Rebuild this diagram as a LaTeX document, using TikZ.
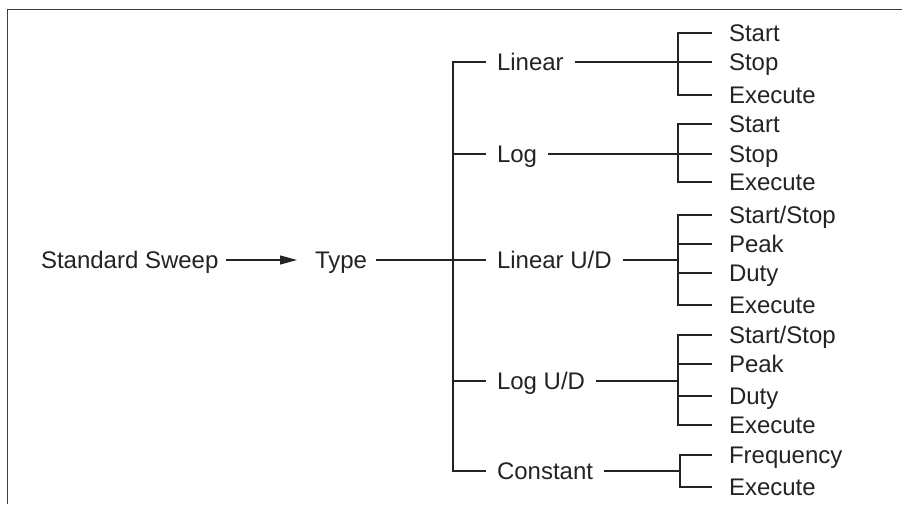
\documentclass[tikz,border=0pt]{standalone}
\usepackage{fontspec}
\setmainfont{Liberation Sans}
\usetikzlibrary{arrows.meta, positioning}
\definecolor{inkgray}{RGB}{35,35,35}
\definecolor{framegray}{RGB}{60,60,60}

\begin{document}
\begin{tikzpicture}[x=1pt, y=-1pt,
  lbl/.style={anchor=west, inner xsep=0pt, inner ysep=0pt, text height=17pt, text depth=0pt,
              font=\fontsize{24}{28}\selectfont, text=inkgray},
  mid/.style={lbl, outer xsep=11pt},
  leaf/.style={lbl, outer xsep=17pt},
  wire/.style={draw=inkgray, line width=1.1pt},
  arr/.style={wire, -{Triangle[length=17pt, width=9pt]}}]
\useasboundingbox (0,0) rectangle (902,504);
\draw[framegray, line width=1.9pt] (7.5,504) -- (7.5,9.5) -- (902,9.5);

\node[lbl, outer xsep=8pt] (ss) at (33,260) {Standard Sweep};
\node[lbl, outer xsep=9pt] (ty) at (306,260) {Type};
\draw[arr, shorten >=9pt] (ss.east) -- (ty.west);
\coordinate (bus) at (453,260);
\draw[wire] (ty.east) -- (bus);

\node[mid] (lin) at (486,62) {Linear};
\node[mid] (log) at (486,154) {Log};
\node[mid] (linud) at (486,260) {Linear U/D};
\node[mid] (logud) at (486,381) {Log U/D};
\node[mid] (const) at (486,471) {Constant};
\draw[wire] (lin.west) -| (bus) |- (const.west);
\draw[wire] (log.west) -- (log.west -| bus);
\draw[wire] (linud.west) -- (linud.west -| bus);
\draw[wire] (logud.west) -- (logud.west -| bus);

\node[leaf] (lin1) at (712,33) {Start};
\node[leaf] (lin2) at (712,62) {Stop};
\node[leaf] (lin3) at (712,95) {Execute};
\coordinate (sb1) at (678,62);
\draw[wire] (lin1.west) -| (sb1) |- (lin3.west);
\draw[wire] (lin.east) -- (lin2.west);

\node[leaf] (log1) at (712,124) {Start};
\node[leaf] (log2) at (712,154) {Stop};
\node[leaf] (log3) at (712,182) {Execute};
\coordinate (sb2) at (678,154);
\draw[wire] (log1.west) -| (sb2) |- (log3.west);
\draw[wire] (log.east) -- (log2.west);

\node[leaf] (lud1) at (712,215) {Start/Stop};
\node[leaf] (lud2) at (712,244) {Peak};
\node[leaf] (lud3) at (712,273) {Duty};
\node[leaf] (lud4) at (712,305) {Execute};
\coordinate (sb3) at (678,260);
\draw[wire] (lud1.west) -| (sb3) |- (lud4.west);
\draw[wire] (linud.east) -- (sb3);
\draw[wire] (lud2.west) -- (lud2.west -| sb3);
\draw[wire] (lud3.west) -- (lud3.west -| sb3);

\node[leaf] (gud1) at (712,335) {Start/Stop};
\node[leaf] (gud2) at (712,364) {Peak};
\node[leaf] (gud3) at (712,396) {Duty};
\node[leaf] (gud4) at (712,425) {Execute};
\coordinate (sb4) at (678,381);
\draw[wire] (gud1.west) -| (sb4) |- (gud4.west);
\draw[wire] (logud.east) -- (sb4);
\draw[wire] (gud2.west) -- (gud2.west -| sb4);
\draw[wire] (gud3.west) -- (gud3.west -| sb4);

\node[leaf] (con1) at (712,455) {Frequency};
\node[leaf] (con2) at (712,487) {Execute};
\coordinate (sb5) at (680,471);
\draw[wire] (con1.west) -| (sb5) |- (con2.west);
\draw[wire] (const.east) -- (sb5);
\end{tikzpicture}
\end{document}
